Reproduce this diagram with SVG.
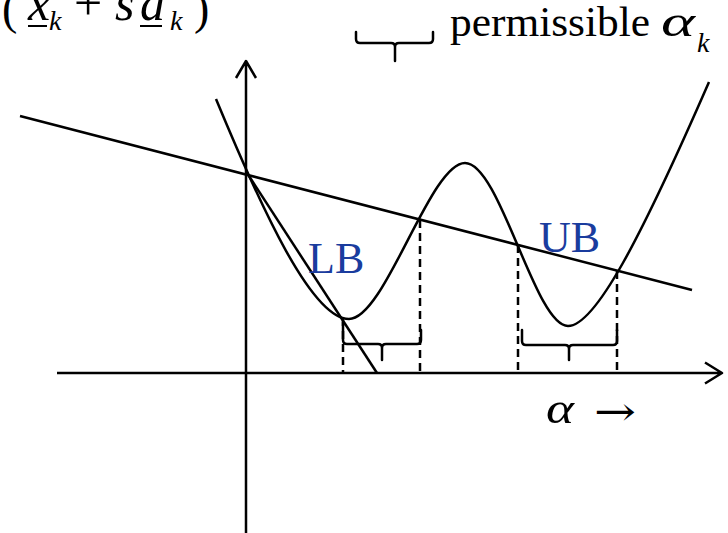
<svg xmlns="http://www.w3.org/2000/svg" width="728" height="533" viewBox="0 0 728 533">
<style>
.ln{fill:none;stroke:#000;stroke-width:2.5;stroke-linejoin:round}
.ds{fill:none;stroke:#000;stroke-width:2.5;stroke-dasharray:8 5}
.br{fill:none;stroke:#000;stroke-width:2.5;stroke-linejoin:round;stroke-linecap:round}
.t{font-family:"Liberation Serif","Times New Roman",serif;fill:#000}
.i{font-style:italic}
.ar{font-family:"DejaVu Serif","DejaVu Sans",serif;fill:#000}
.lbl{font-family:"Liberation Serif","Times New Roman",serif;font-size:44px;fill:#1a3c9e}
</style>
<rect width="728" height="533" fill="#fff"/>
<g id="axes">
<path class="ln" d="M246,533 V61 M236,78 L246,61 L256,78"/>
<path class="ln" d="M57,373 H722 M705,362.5 L722,373 L705,383.5"/>
</g>
<g id="curve">
<path class="ln" d="M216,99 C262,210 312,319 349,319 C385,319 430,163 465,163 C500,163 535,326 568,326 C595,326 640,240 709,82"/>
</g>
<g id="lines">
<path class="ln" d="M20,116 L692,290"/>
<path class="ln" d="M247,173 L377,373"/>
</g>
<g id="dashes">
<path class="ds" d="M343,318 V373 M420,220 V373 M518,245 V373 M617,271 V373"/>
</g>
<g id="brackets">
<path class="br" d="M343,322 V340 Q343,344 347,344 H378 Q382,344 382,348 V360 M382,348 Q382,344 386,344 H417 Q421,344 421,340 V330"/>
<path class="br" d="M522,330 V341 Q522,345 526,345 H565 Q569,345 569,349 V360 M569,349 Q569,345 573,345 H613 Q617,345 617,341 V330"/>
<path class="br" d="M356,32 V39 Q356,43 360,43 H391 Q395,43 395,47 V61 M395,47 Q395,43 399,43 H429 Q433,43 433,39 V32"/>
</g>
<g id="formula">
<text class="t" x="2" y="24" font-size="46">(</text>
<text class="t i" x="28" y="20" font-size="50">x</text>
<path d="M28,26 H47 M140,26 H162" stroke="#000" stroke-width="2"/>
<text class="t i" x="49" y="30" font-size="28">k</text>
<text class="t" x="74" y="20" font-size="50">+</text>
<text class="t i" x="115" y="20" font-size="50">s</text>
<text class="t i" x="140" y="20" font-size="50">d</text>
<text class="t i" x="170" y="30" font-size="28">k</text>
<text class="t" x="194" y="24" font-size="46">)</text>
</g>
<g id="legend">
<text class="t" x="450" y="36" font-size="43" textLength="200" lengthAdjust="spacingAndGlyphs">permissible</text>
<text class="t i" x="661" y="36" font-size="44" textLength="34" lengthAdjust="spacingAndGlyphs">α</text>
<text class="t i" x="697" y="52" font-size="28">k</text>
</g>
<g id="alabel">
<text class="t i" x="546" y="423" font-size="44" textLength="28" lengthAdjust="spacingAndGlyphs">α</text>
<text class="ar" x="594" y="425" font-size="40" textLength="42" lengthAdjust="spacingAndGlyphs">→</text>
</g>
<g id="bounds">
<text class="lbl" x="308" y="273">LB</text>
<text class="lbl" x="539" y="252">UB</text>
</g>
</svg>
